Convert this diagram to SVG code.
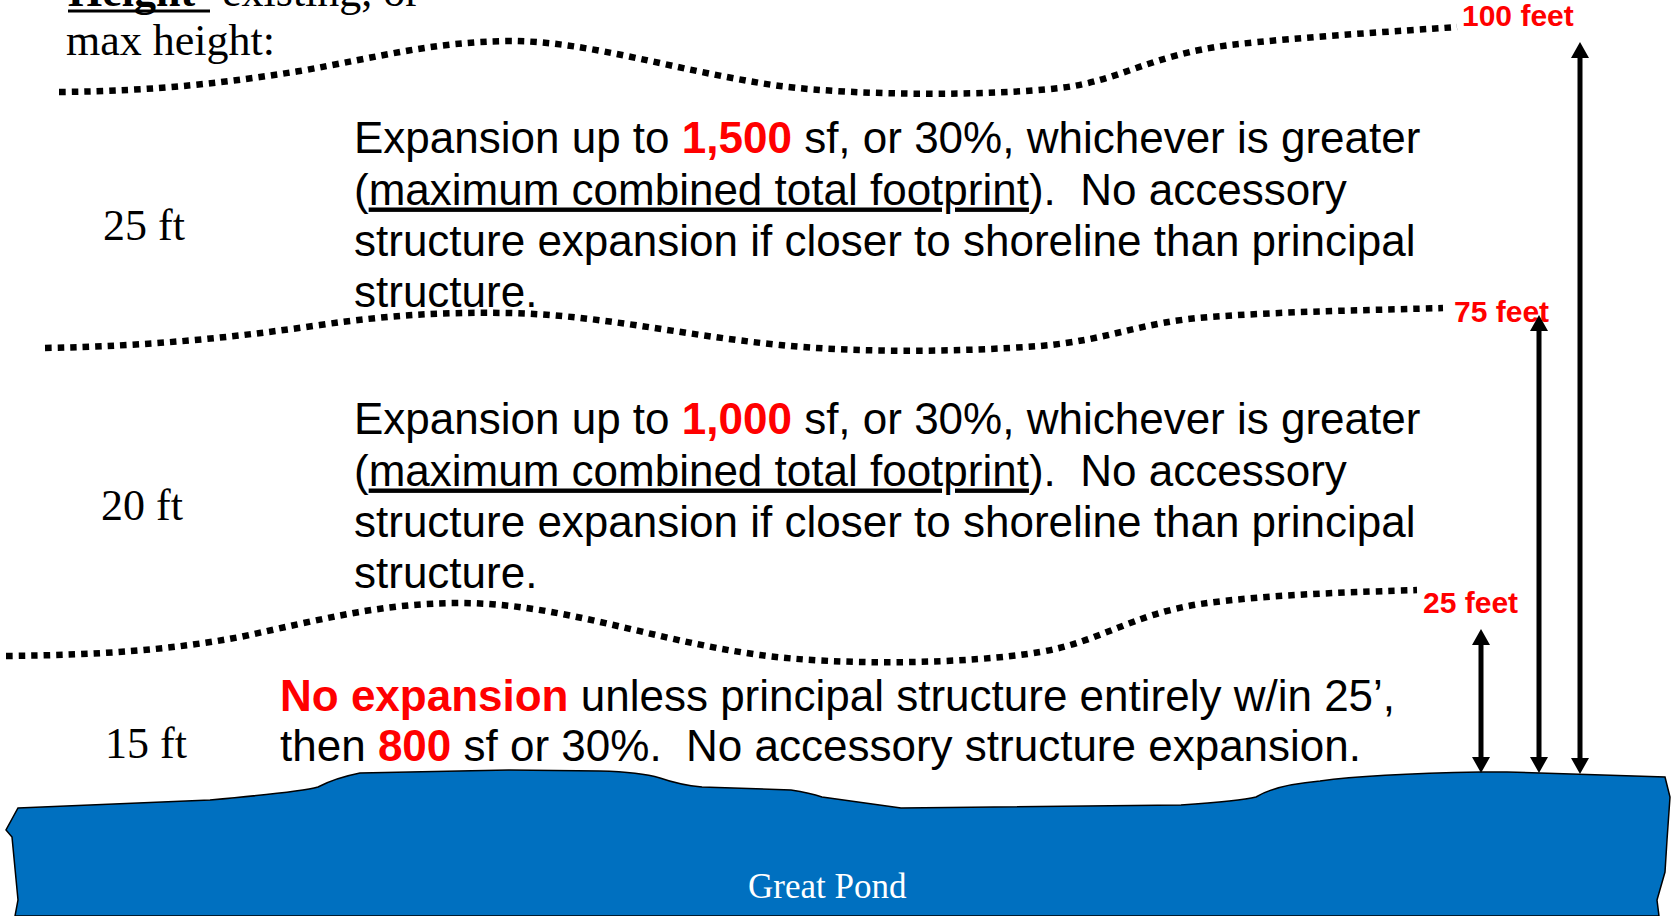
<svg xmlns="http://www.w3.org/2000/svg" width="1671" height="916" viewBox="0 0 1671 916">
  <style>
    .serif { font-family: "Liberation Serif", "Times New Roman", serif; font-size: 44px; fill: #000; }
    .body { font-family: "Liberation Sans", Arial, sans-serif; font-size: 44px; fill: #000; }
    .hot { fill: #FF0000; font-weight: bold; }
    .ul { text-decoration: underline; }
    .dist { font-family: "Liberation Sans", Arial, sans-serif; font-size: 30px; font-weight: bold; fill: #FF0000; }
    .boundary { fill: none; stroke: #000; stroke-width: 6.5; stroke-dasharray: 6.5 6; }
    .arrow { stroke: #000; stroke-width: 5; fill: none; marker-start: url(#head); marker-end: url(#head); }
  </style>
  <defs>
    <marker id="head" markerUnits="userSpaceOnUse" markerWidth="16" markerHeight="18" viewBox="0 0 16 18" refX="1" refY="9" orient="auto-start-reverse">
      <path d="M0,0 L16,9 L0,18 Z" fill="#000"/>
    </marker>
  </defs>

  <rect width="1671" height="916" fill="#fff"/>

  <!-- water body -->
  <g id="pond">
    <path d="M18,808 L210,800 Q300,792 318,787 Q335,778 360,773 L509,770 L600,771 Q640,772 660,778 Q680,785 702,787 L791,790 Q810,793 822,797 L901,808 L1181,805 Q1240,801 1256,797 Q1275,785 1320,781 Q1370,774 1481,772 L1507,772 L1665,777 L1670,797 L1667,840 L1665,872 L1657,900 L1659,916 L15,916 L18,900 L12,837 L6,830 Z" fill="#0070C0" stroke="#000" stroke-width="1.5"/>
    <text x="748" y="898" font-family="Liberation Serif, Times New Roman, serif" font-size="35" fill="#fff">Great Pond</text>
  </g>

  <!-- setback boundaries -->
  <g id="boundary-100">
    <path class="boundary" d="M59,92 C160,91 230,82 300,71 C380,57 430,42 510,41 C590,41 680,72 780,86 C860,96 990,96 1060,88 C1120,81 1150,55 1230,45 C1300,37 1400,31 1457,27"/>
  </g>
  <g id="boundary-75">
    <path class="boundary" d="M45,348 C150,346 230,338 320,325 C390,315 440,312 510,313 C600,315 680,335 780,345 C860,353 960,352 1040,346 C1110,340 1140,322 1210,317 C1290,311 1380,310 1443,308"/>
  </g>
  <g id="boundary-25">
    <path class="boundary" d="M6,656 C100,655 170,650 240,637 C320,620 380,603 460,603 C560,603 650,640 760,655 C840,666 970,664 1040,652 C1100,642 1130,615 1200,604 C1270,594 1360,592 1417,590"/>
  </g>

  <!-- heading -->
  <g id="heading">
    <text class="serif" x="68" y="6"><tspan font-weight="bold">Height</tspan><tspan x="222">existing, or</tspan></text>
    <line x1="68" y1="11" x2="210" y2="11" stroke="#000" stroke-width="3"/>
    <text class="serif" x="66" y="55">max height:</text>
  </g>

  <!-- zone between 75 and 100 feet -->
  <g id="zone-outer">
    <text class="serif" x="103" y="240">25 ft</text>
    <text class="body" xml:space="preserve">
      <tspan x="354" y="153">Expansion up to <tspan class="hot">1,500</tspan> sf, or 30%, whichever is greater</tspan>
      <tspan x="354" y="204.5">(<tspan class="ul">maximum combined total footprint</tspan>).  No accessory</tspan>
      <tspan x="354" y="256">structure expansion if closer to shoreline than principal</tspan>
      <tspan x="354" y="307">structure.</tspan>
    </text>
  </g>

  <!-- zone between 25 and 75 feet -->
  <g id="zone-middle">
    <text class="serif" x="101" y="520">20 ft</text>
    <text class="body" xml:space="preserve">
      <tspan x="354" y="434">Expansion up to <tspan class="hot">1,000</tspan> sf, or 30%, whichever is greater</tspan>
      <tspan x="354" y="485.5">(<tspan class="ul">maximum combined total footprint</tspan>).  No accessory</tspan>
      <tspan x="354" y="537">structure expansion if closer to shoreline than principal</tspan>
      <tspan x="354" y="588">structure.</tspan>
    </text>
  </g>

  <!-- zone within 25 feet -->
  <g id="zone-inner">
    <text class="serif" x="105" y="758">15 ft</text>
    <text class="body" xml:space="preserve">
      <tspan x="280" y="711"><tspan class="hot">No expansion</tspan> unless principal structure entirely w/in 25’,</tspan>
      <tspan x="280" y="761">then <tspan class="hot">800</tspan> sf or 30%.  No accessory structure expansion.</tspan>
    </text>
  </g>

  <!-- distance labels -->
  <g id="label-100"><text class="dist" x="1462" y="26">100 feet</text></g>
  <g id="label-75"><text class="dist" x="1454" y="322">75 feet</text></g>
  <g id="label-25"><text class="dist" x="1423" y="613">25 feet</text></g>

  <!-- distance arrows from the shoreline -->
  <g id="connectors">
    <line class="arrow" x1="1580" y1="57" x2="1580" y2="759"/>
    <line class="arrow" x1="1539" y1="330" x2="1539" y2="758"/>
    <line class="arrow" x1="1481" y1="644" x2="1481" y2="758"/>
  </g>
</svg>
